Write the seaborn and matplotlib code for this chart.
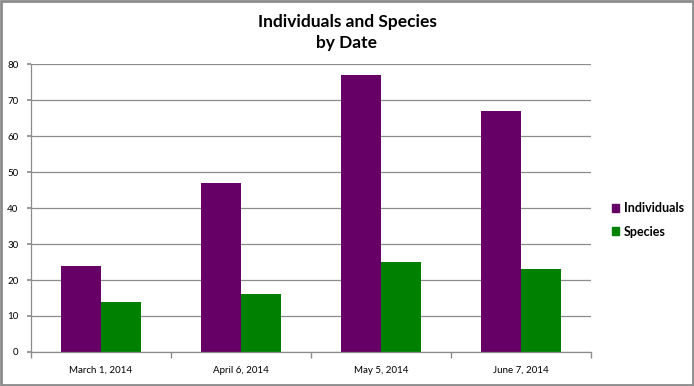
import pandas as pd
import matplotlib.pyplot as plt
import matplotlib.patches as mpatches
import seaborn as sns

# ---------------- DATA ----------------
dates = ["March 1, 2014", "April 6, 2014", "May 5, 2014", "June 7, 2014"]
individuals = [24, 47, 77, 67]
species = [14, 16, 25, 23]
series_names = ["Individuals", "Species"]
colors = ["#660066", "#008000"]

df = pd.DataFrame({
    "date": dates * 2,
    "count": individuals + species,
    "series": [series_names[0]] * len(dates) + [series_names[1]] * len(dates),
})

# ---------------- PLOT ----------------
sns.set_theme(style="white")
plt.rcParams["font.family"] = ["Lato", "DejaVu Sans"]

fig = plt.figure(figsize=(6.94, 3.86), dpi=100)
ax = fig.add_axes([0.0447, 0.0881, 0.807, 0.746])

sns.barplot(
    data=df, x="date", y="count", hue="series",
    palette=colors, width=0.571, gap=0, saturation=1,
    linewidth=0, ax=ax, legend=False,
)

ax.set_ylim(0, 80)
ax.set_yticks(range(0, 81, 10))
ax.set_xlim(-0.5, len(dates) - 0.5)
ax.yaxis.grid(True, color="#8c8c8c", linewidth=0.9)
ax.set_axisbelow(True)
ax.set_xlabel("")
ax.set_ylabel("")

for s in ["top", "right"]:
    ax.spines[s].set_visible(False)
for s in ["left", "bottom"]:
    ax.spines[s].set_color("#8c8c8c")
    ax.spines[s].set_linewidth(0.9)

ax.tick_params(axis="y", labelsize=7, labelcolor="black", length=3, color="#8c8c8c", left=True, pad=6)
ax.tick_params(axis="x", labelsize=7, labelcolor="black", length=0, pad=10)
# category boundary ticks
ax.set_xticks([i - 0.5 for i in range(len(dates) + 1)], minor=True)
ax.tick_params(axis="x", which="minor", length=4, color="#8c8c8c", bottom=True)

fig.suptitle("Individuals and Species\nby Date", fontsize=12.5, fontweight="bold",
             y=0.965, linespacing=1.45, color="black")

handles = [mpatches.Patch(color=c, label=n) for c, n in zip(colors, series_names)]
fig.legend(handles=handles, loc="center left", bbox_to_anchor=(0.865, 0.43),
           frameon=False, prop={"size": 9, "weight": "bold"}, labelcolor="black",
           handlelength=0.6, handleheight=0.6, handletextpad=0.4, labelspacing=0.9)

# outer border
fig.patches.append(mpatches.Rectangle((0.002, 0.003), 0.996, 0.994, transform=fig.transFigure,
                                      fill=False, edgecolor="#8c8c8c", linewidth=2))

fig.savefig("out.png", dpi=100)
